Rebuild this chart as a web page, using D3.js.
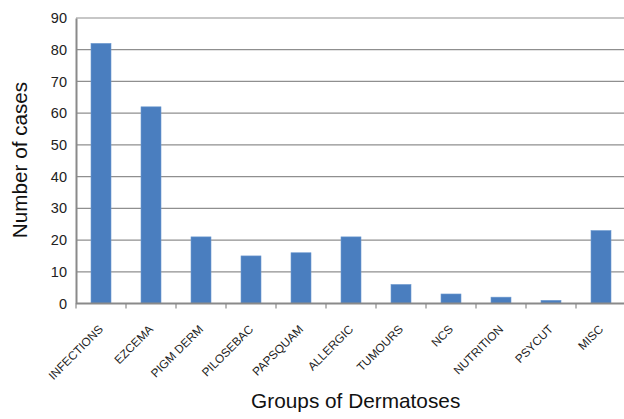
<!DOCTYPE html>
<html>
<head>
<meta charset="utf-8">
<script src="https://cdn.jsdelivr.net/npm/d3@7"></script>
<style>
  html, body { margin: 0; padding: 0; background: #fff; }
  svg { display: block; font-family: "Liberation Sans", Arial, sans-serif; }
</style>
</head>
<body>
<svg id="chart" width="624" height="419"></svg>
<script>
// Dermatoses grouped by category, case counts
const categories = ["INFECTIONS", "EZCEMA", "PIGM DERM", "PILOSEBAC", "PAPSQUAM", "ALLERGIC",
                    "TUMOURS", "NCS", "NUTRITION", "PSYCUT", "MISC"];
const cases = [82, 62, 21, 15, 16, 21, 6, 3, 2, 1, 23];
const yTicks = [0, 10, 20, 30, 40, 50, 60, 70, 80, 90];

const svg = d3.select("#chart");
const plotLeft = 76, plotRight = 626, plotTop = 18, plotBottom = 303.5;

const x = d3.scaleBand().domain(categories).range([plotLeft, plotRight]).paddingInner(0.6).paddingOuter(0.3);
const xb = d3.scaleBand().domain(categories).range([plotLeft, plotRight]);
const y = d3.scaleLinear().domain([0, 90]).range([plotBottom, plotTop]);

// horizontal gridlines
svg.append("g").selectAll("line").data(yTicks.filter(d => d > 0)).join("line")
  .attr("x1", plotLeft).attr("x2", plotRight)
  .attr("y1", d => y(d)).attr("y2", d => y(d))
  .attr("stroke", "#8f8f8f").attr("stroke-width", 1.2);

// bars
svg.append("g").selectAll("rect").data(categories).join("rect")
  .attr("x", d => x(d))
  .attr("width", x.bandwidth())
  .attr("y", (d, i) => y(cases[i]))
  .attr("height", (d, i) => plotBottom - y(cases[i]))
  .attr("fill", "#4a7ebf")
  .attr("stroke", "#6f9bd0").attr("stroke-width", 0.6);

// y axis
const yAxis = d3.axisLeft(y).tickValues(yTicks).tickSize(0).tickPadding(9);
const gy = svg.append("g").attr("transform", `translate(${plotLeft},0)`).call(yAxis);
gy.select(".domain").attr("stroke", "#8a8a8a").attr("stroke-width", 2);
gy.selectAll("text").attr("font-size", 14.5).attr("fill", "#222");

// x axis baseline and category tick marks
svg.append("line").attr("x1", plotLeft).attr("x2", plotRight).attr("y1", plotBottom).attr("y2", plotBottom)
  .attr("stroke", "#8a8a8a").attr("stroke-width", 2);
svg.append("g").selectAll("line").data(categories).join("line")
  .attr("x1", d => xb(d)).attr("x2", d => xb(d))
  .attr("y1", plotBottom).attr("y2", plotBottom + 5)
  .attr("stroke", "#8a8a8a").attr("stroke-width", 1.2);

// rotated category labels
svg.append("g").selectAll("text").data(categories).join("text")
  .attr("transform", d => `translate(${x(d) + x.bandwidth() / 2},327) rotate(-45)`)
  .attr("text-anchor", "end")
  .attr("dy", "0.35em")
  .attr("font-size", 11.8)
  .attr("fill", "#222")
  .text(d => d);

// axis titles
svg.append("text")
  .attr("transform", "translate(27,160) rotate(-90)")
  .attr("text-anchor", "middle")
  .attr("font-size", 20.7)
  .attr("fill", "#111")
  .text("Number of cases");

svg.append("text")
  .attr("x", 355.7).attr("y", 408)
  .attr("text-anchor", "middle")
  .attr("font-size", 20.8)
  .attr("fill", "#111")
  .text("Groups of Dermatoses");
</script>
</body>
</html>
